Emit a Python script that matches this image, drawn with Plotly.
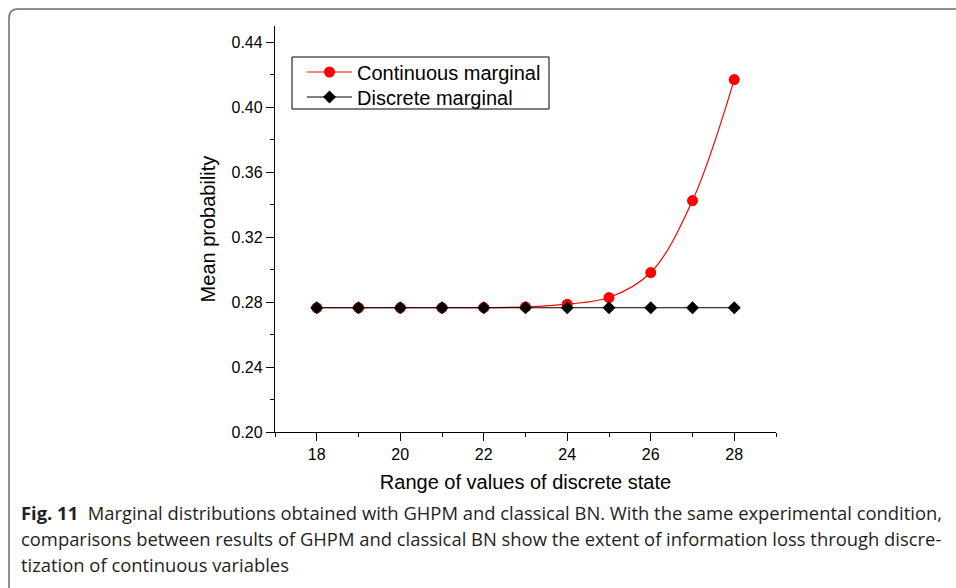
import plotly.graph_objects as go

x_states = [18, 19, 20, 21, 22, 23, 24, 25, 26, 27, 28]
continuous_marginal = [0.2765, 0.2765, 0.2765, 0.2765, 0.2766, 0.2770, 0.2787, 0.2828, 0.2982, 0.3425, 0.4170]
discrete_marginal = [0.2765] * 11
x_tickvals = [18, 20, 22, 24, 26, 28]
y_tickvals = [0.20, 0.24, 0.28, 0.32, 0.36, 0.40, 0.44]

W, H = 956, 588
L, R, T, B = 275, 776, 26, 432


def px(xp):
    return (xp - L) / (R - L)


def py(yp):
    return (B - yp) / (B - T)


fig = go.Figure()
fig.add_trace(go.Scatter(
    x=x_states, y=continuous_marginal, name="Continuous marginal", legend="legend",
    mode="lines+markers", line=dict(color="#ff0000", width=1.2, shape="spline"),
    marker=dict(symbol="circle", size=11, color="#ff0000")))
fig.add_trace(go.Scatter(
    x=x_states, y=discrete_marginal, name="Discrete marginal", legend="legend2",
    mode="lines+markers", line=dict(color="#000000", width=1.2),
    marker=dict(symbol="diamond", size=10, color="#000000")))

axis_font = dict(family="Liberation Sans, Arial, sans-serif", size=16, color="black")
title_font = dict(family="Liberation Sans, Arial, sans-serif", size=20, color="black")
fig.update_xaxes(range=[17, 29], tickvals=x_tickvals, ticks="outside", ticklen=8,
                 tickwidth=1.2, tickcolor="black", showline=True, linecolor="black",
                 linewidth=1.3, showgrid=False, zeroline=False, tickfont=axis_font,
                 minor=dict(dtick=1, tick0=17, ticks="outside", ticklen=4, tickcolor="black", tickwidth=1.2),
                 title=dict(text="Range of values of discrete state", font=title_font, standoff=12))
fig.update_yaxes(range=[0.20, 0.45], tickvals=y_tickvals, tickformat=".2f", ticks="outside",
                 ticklen=8, tickwidth=1.2, tickcolor="black", showline=True, linecolor="black",
                 linewidth=1.3, showgrid=False, zeroline=False, tickfont=axis_font,
                 minor=dict(dtick=0.02, tick0=0.2, ticks="outside", ticklen=4, tickcolor="black", tickwidth=1.2),
                 title=dict(text="Mean probability", font=title_font, standoff=10))

# rounded frame
r = 9
x0, y0, x1, y1 = 9, 9, 975, 600
path = (f"M {px(x0)},{py(y0 + r)} Q {px(x0)},{py(y0)} {px(x0 + r)},{py(y0)} "
        f"L {px(x1)},{py(y0)} L {px(x1)},{py(y1)} L {px(x0 + r)},{py(y1)} "
        f"Q {px(x0)},{py(y1)} {px(x0)},{py(y1 - r)} Z")
fig.add_shape(type="path", path=path, xref="paper", yref="paper",
              line=dict(color="#6b6b6b", width=1.5), fillcolor="rgba(0,0,0,0)", layer="below")

# legend frame
fig.add_shape(type="rect", xref="paper", yref="paper", x0=px(292), x1=px(549), y0=py(57), y1=py(109),
              line=dict(color="black", width=1), fillcolor="white", layer="below")

cap_font = dict(family="Open Sans", size=18.4, color="#231f20")
lines = [
    "<b>Fig. 11</b>  Marginal distributions obtained with GHPM and classical BN. With the same experimental condition,",
    "comparisons between results of GHPM and classical BN show the extent of information loss through discre-",
    "tization of continuous variables",
]
for i, t in enumerate(lines):
    fig.add_annotation(text=t, xref="paper", yref="paper", x=px(19), y=py(512 + 26 * i),
                       xanchor="left", yanchor="middle", showarrow=False, font=cap_font, align="left")

leg_common = dict(xanchor="left", yanchor="middle", borderwidth=0, bgcolor="rgba(0,0,0,0)",
                  itemwidth=45, font=dict(family="Liberation Sans, Arial, sans-serif", size=20, color="black"),
                  itemsizing="trace")
fig.update_layout(
    width=W, height=H, margin=dict(l=L, r=W - R, t=T, b=H - B),
    plot_bgcolor="white", paper_bgcolor="white",
    showlegend=True,
    legend=dict(x=px(302), y=py(72), **leg_common),
    legend2=dict(x=px(302), y=py(97), **leg_common),
)

fig.write_html("out.html", config={"displayModeBar": False},
               post_script="document.body.style.margin='0';document.body.style.overflow='hidden';")
